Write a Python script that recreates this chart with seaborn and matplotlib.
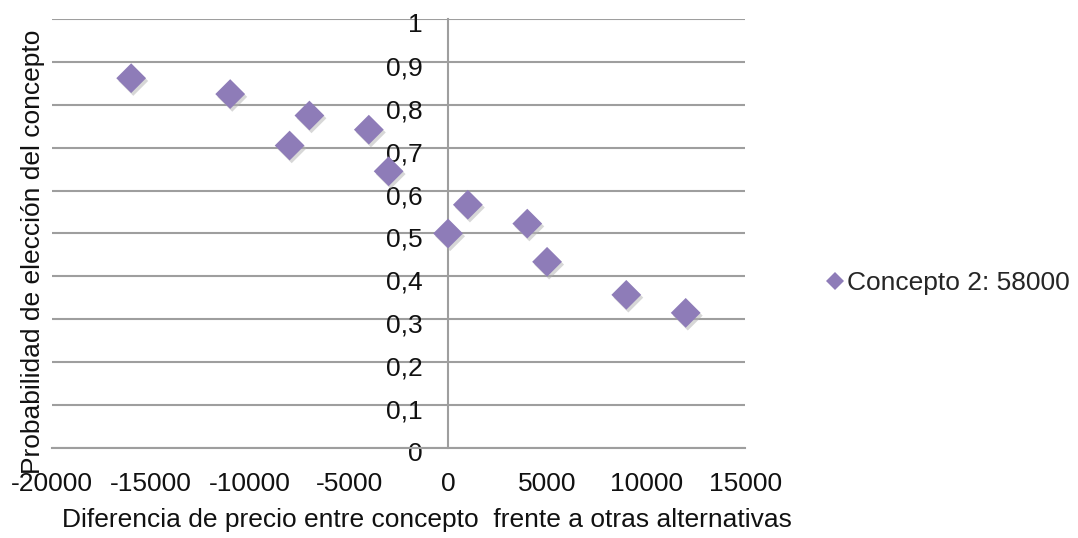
import matplotlib
matplotlib.use("Agg")
import matplotlib.pyplot as plt
import matplotlib.patheffects as pe
import matplotlib.transforms as mtransforms
import seaborn as sns
import pandas as pd
import numpy as np

# Price difference vs. choice probability
precio_diff = [-16000, -11000, -8000, -7000, -4000, -3000, 0, 1000, 4000, 5000, 9000, 12000]
probabilidad = [0.862, 0.825, 0.705, 0.775, 0.742, 0.645, 0.500, 0.567, 0.523, 0.434, 0.357, 0.315]
serie = "Concepto 2: 58000"

x_ticks = [-20000, -15000, -10000, -5000, 0, 5000, 10000, 15000]
y_ticks = [0, 0.1, 0.2, 0.3, 0.4, 0.5, 0.6, 0.7, 0.8, 0.9, 1]
y_tick_labels = ["0", "0,1", "0,2", "0,3", "0,4", "0,5", "0,6", "0,7", "0,8", "0,9", "1"]

df = pd.DataFrame({"x": precio_diff, "y": probabilidad, "serie": serie})

sns.set_style("white")
plt.rcParams["font.family"] = ["Liberation Sans", "DejaVu Sans"]

purple = "#8E7CB8"
grid_grey = "#9E9E9E"
text_col = "#111111"
fs = 19

fig = plt.figure(figsize=(10.78, 5.38), dpi=100)
ax = fig.add_axes([0.0482, 0.1673, 0.643, 0.7974])

sns.scatterplot(data=df, x="x", y="y", hue="serie", palette=[purple],
                marker="D", s=230, edgecolor="none", ax=ax, zorder=3)
ax.collections[0].set_path_effects([
    pe.SimplePatchShadow(offset=(1.5, -2), shadow_rgbFace="#b0b0b0", alpha=0.5),
    pe.Normal()])

ax.set_xlim(-20000, 15000)
ax.set_ylim(0, 1)
ax.set_xticks(x_ticks)
ax.set_xticklabels([str(v) for v in x_ticks])
ax.set_yticks(y_ticks)
ax.set_yticklabels(y_tick_labels)

ax.grid(axis="y", color=grid_grey, linewidth=1.5)
ax.set_axisbelow(True)

for s in ["top", "right"]:
    ax.spines[s].set_visible(False)
ax.spines["left"].set_position(("data", 0))
ax.spines["bottom"].set_position(("data", 0))
for s in ["left", "bottom"]:
    ax.spines[s].set_color(grid_grey)
    ax.spines[s].set_linewidth(1.5)

ax.tick_params(axis="x", direction="out", length=6, width=1.5, color=grid_grey,
               labelsize=fs, pad=11, labelcolor=text_col)
ax.tick_params(axis="y", direction="out", length=5, width=1.5, color=grid_grey,
               labelsize=fs, pad=13, labelcolor=text_col)

# y tick labels sit slightly below their gridlines
shift = mtransforms.ScaledTranslation(0, -4 / 100, fig.dpi_scale_trans)
for lbl in ax.get_yticklabels():
    lbl.set_transform(lbl.get_transform() + shift)

ax.set_xlabel("Diferencia de precio entre concepto  frente a otras alternativas",
              fontsize=fs, color=text_col)
ax.xaxis.set_label_coords(0.541, -0.14)
ax.set_ylabel("Probabilidad de elección del concepto", fontsize=fs, color=text_col)
ax.yaxis.set_label_coords(-0.0105, 0.457)

leg = ax.legend(loc="center left", bbox_to_anchor=(1.058, 0.385), frameon=False,
                fontsize=fs, handletextpad=-0.55, markerscale=0.6)

fig.savefig("out.png", dpi=100)
